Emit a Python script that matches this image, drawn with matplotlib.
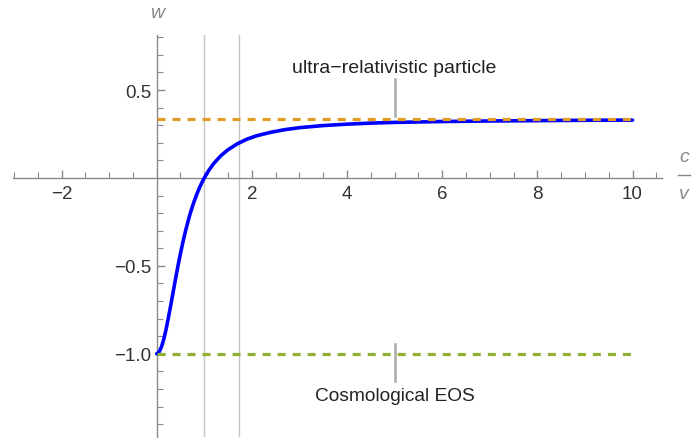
import matplotlib
matplotlib.use("Agg")
import matplotlib.pyplot as plt
from matplotlib.ticker import MultipleLocator, FixedLocator

plt.rcParams['font.family'] = ['Liberation Sans', 'DejaVu Sans']

# equation of state w against c/v
ratio = [0, 0.05, 0.1, 0.15, 0.2, 0.25, 0.3, 0.35, 0.4, 0.45, 0.5, 0.55, 0.6, 0.65,
         0.7, 0.75, 0.8, 0.85, 0.9, 0.95, 1.0, 1.1, 1.2, 1.35, 1.5, 1.7, 1.9, 2.1,
         2.4, 2.7, 3.0, 3.5, 4.0, 4.5, 5.0, 6.0, 7.0, 8.0, 9.0, 10.0]
w = [-1.0, -0.990, -0.961, -0.916, -0.857, -0.789, -0.717, -0.642, -0.568, -0.496,
     -0.429, -0.366, -0.308, -0.255, -0.206, -0.163, -0.123, -0.088, -0.055, -0.026,
     0.0, 0.045, 0.083, 0.127, 0.161, 0.195, 0.221, 0.240, 0.260, 0.275, 0.286,
     0.298, 0.306, 0.312, 0.316, 0.321, 0.324, 0.326, 0.328, 0.329]

w_radiation = 1 / 3
w_cosmo = -1.0
marks = [1.0, 1.732]
x_ticks = [-2, 2, 4, 6, 8, 10]
y_ticks = [-1.0, -0.5, 0.5]
y_labels = ["\u22121.0", "\u22120.5", "0.5"]

W, H = 695, 439
fig = plt.figure(figsize=(W / 100, H / 100), dpi=100)
left, right, top, bottom = 13, 662, 36, 438
ax = fig.add_axes([left / W, 1 - bottom / H, (right - left) / W, (bottom - top) / H])
ax.set_xlim(-3.02, 10.62)
ax.set_ylim(-1.473, 0.813)

axis_col = '#8a8a8a'
for s in ['top', 'right']:
    ax.spines[s].set_visible(False)
ax.spines['left'].set_position(('data', 0))
ax.spines['bottom'].set_position(('data', 0))
for s in ['left', 'bottom']:
    ax.spines[s].set_color(axis_col)
    ax.spines[s].set_linewidth(1.0)

ax.xaxis.set_major_locator(FixedLocator(x_ticks))
ax.xaxis.set_minor_locator(MultipleLocator(0.5))
ax.set_xticklabels([str(t).replace('-', '\u2212') for t in x_ticks])
ax.yaxis.set_major_locator(FixedLocator(y_ticks))
ax.yaxis.set_minor_locator(MultipleLocator(0.1))
ax.set_yticklabels(y_labels)
ax.tick_params(which='both', direction='in', color=axis_col, labelsize=13.5,
               labelcolor='#333333')
ax.tick_params(which='major', length=6, width=1)
ax.tick_params(which='minor', length=4, width=0.8)
ax.tick_params(axis='x', pad=5)
ax.tick_params(axis='y', pad=4)

for m in marks:
    ax.axvline(m, color='#c4c4c4', lw=1.0, zorder=1)

ax.plot(ratio, w, color='#0000ff', lw=2.6, zorder=3, solid_capstyle='round')
ax.plot([0, 10], [w_radiation, w_radiation], color='#e19c24', lw=2.3,
        dashes=(2.5, 2.2), zorder=4)
ax.plot([0, 10], [w_cosmo, w_cosmo], color='#8fb032', lw=2.3,
        dashes=(2.5, 2.2), zorder=4)

# callouts
ax.plot([5, 5], [w_radiation + 0.02, w_radiation + 0.23], color='#aaaaaa', lw=1.8, zorder=2)
ax.text(5, 0.631, "ultra\u2212relativistic particle", ha='center', va='center',
        fontsize=14, color='#222222')
ax.plot([5, 5], [w_cosmo + 0.055, w_cosmo - 0.155], color='#aaaaaa', lw=1.8, zorder=5)
ax.text(5, -1.235, "Cosmological EOS", ha='center', va='center',
        fontsize=13.8, color='#222222')

# axis labels
fig.text(157 / W, 1 - 14 / H, "w", ha='center', va='center', fontsize=14,
         style='italic', color='#888888')
fig.text(684 / W, 1 - 158 / H, "c", ha='center', va='center', fontsize=14,
         style='italic', color='#888888')
fig.text(684 / W, 1 - 195 / H, "v", ha='center', va='center', fontsize=14,
         style='italic', color='#888888')
fig.add_artist(plt.Line2D([678 / W, 690 / W], [1 - 176 / H, 1 - 176 / H],
                          color='#888888', lw=1.0))

fig.savefig("out.png", dpi=100)
